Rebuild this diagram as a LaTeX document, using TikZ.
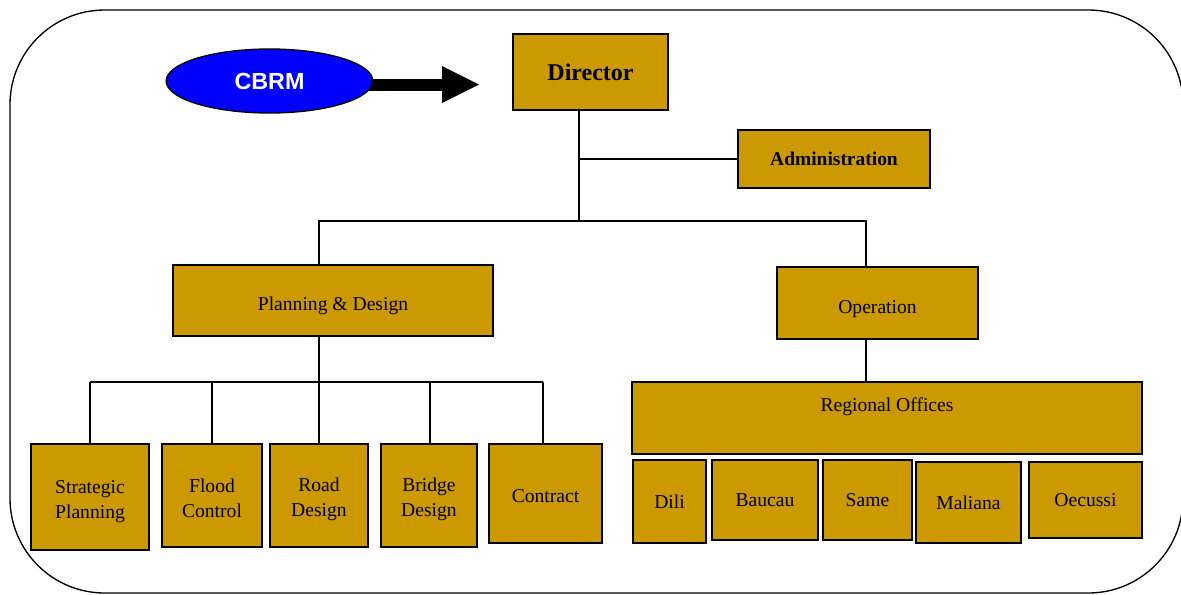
\documentclass[tikz,border=0pt]{standalone}
\usepackage{fontspec}
\setmainfont{Liberation Serif}
\newfontfamily\arialfont{Liberation Sans}
\usetikzlibrary{backgrounds,shapes.geometric}
\definecolor{gold}{RGB}{204,153,0}
\definecolor{cbrmblue}{RGB}{0,0,255}
\newcommand\lowr[1]{\rule{0pt}{#1}}
\begin{document}
\begin{tikzpicture}[x=0.75pt,y=-0.75pt,
  box/.style={draw=black, line width=1.1pt, fill=gold, inner sep=0pt, align=center,
    font=\fontsize{14.7}{18.75}\selectfont},
  wh/.style 2 args={minimum width=#1*0.75pt, minimum height=#2*0.75pt},
  bigbold/.style={font=\bfseries\fontsize{18}{22}\selectfont},
  midbold/.style={font=\bfseries\fontsize{14.6}{18}\selectfont},
  conn/.style={draw=black, line width=1pt}]
\useasboundingbox (0,0) rectangle (1181,594);
\clip (0,0) rectangle (1181,594);
% outer rounded frame
\draw[line width=1pt, rounded corners=71pt] (10,10) rectangle (1183,593);

% CBRM ellipse and block arrow
\node[ellipse, draw=black, line width=1pt, fill=cbrmblue, minimum width=155pt, minimum height=48pt,
  inner sep=0pt, text=white, font=\arialfont\bfseries\fontsize{17.5}{20}\selectfont] (cbrm) at (269.5,81) {CBRM};
\coordinate (tip) at (479,84.5);
\begin{scope}[on background layer]
  \draw[line width=9pt] (cbrm.center |- tip) -- ([xshift=-27.75pt]tip);
  \fill[black] (tip) -- ++(-37,-18.5) -- ++(0,37) -- cycle;
\end{scope}

% boxes
\node[box, bigbold, wh={155}{76}] (dir) at (590.5,72) {Director};
\node[box, midbold, wh={192}{58}] (adm) at (834,159) {Administration};
\node[box, wh={320}{71}] (pd) at (333,300.5) {\lowr{17.5pt}Planning \& Design};
\node[box, wh={201}{72}] (op) at (877.5,303) {\lowr{18.5pt}Operation};
\node[box, wh={510}{72},
  label={[name=rolabel, font=\fontsize{14.7}{18.75}\selectfont, yshift=8.25pt]center:Regional Offices}] (ro) at (887,418) {};

\node[box, wh={118}{106}] (sp) at (90,497) {\lowr{16pt}Strategic\\Planning};
\node[box, wh={100}{103}] (fc) at (212,495.5) {\lowr{14.5pt}Flood\\Control};
\node[box, wh={98}{103}] (rd) at (319,495.5) {\lowr{16pt}Road\\Design};
\node[box, wh={96}{103}] (bd) at (429,495.5) {\lowr{16pt}Bridge\\Design};
\node[box, wh={113}{99}] (ct) at (545.5,493.5) {\lowr{13pt}Contract};

\node[box, wh={73}{83}] (dili) at (669.5,501.5) {Dili};
\node[box, wh={106}{80}] (bau) at (765,500) {Baucau};
\node[box, wh={89}{80}] (same) at (867.5,500) {Same};
\node[box, wh={105}{81}] (mal) at (968.5,502.5) {Maliana};
\node[box, wh={113}{76}] (oec) at (1085.5,500) {Oecussi};

% connectors
\coordinate (t1) at (579,221);
\coordinate (busA) at (319,221);
\coordinate (busB) at (866,221);
\draw[conn] (dir.south -| t1) -- (t1);
\draw[conn] (t1 |- adm.west) -- (adm.west);
\draw[conn] (busA |- pd.north) -- (busA) -- (busB) -- (busB |- op.north);
\draw[conn] (busB |- op.south) -- (busB |- ro.north);

\coordinate (b1) at (90,382);
\coordinate (b2) at (212,382);
\coordinate (b3) at (319,382);
\coordinate (b4) at (430,382);
\coordinate (b5) at (543,382);
\draw[conn] (b3 |- pd.south) -- (b3);
\draw[conn] (b1) -- (b5);
\draw[conn] (b1) -- (b1 |- sp.north);
\draw[conn] (b2) -- (b2 |- fc.north);
\draw[conn] (b3) -- (b3 |- rd.north);
\draw[conn] (b4) -- (b4 |- bd.north);
\draw[conn] (b5) -- (b5 |- ct.north);
\end{tikzpicture}
\end{document}
